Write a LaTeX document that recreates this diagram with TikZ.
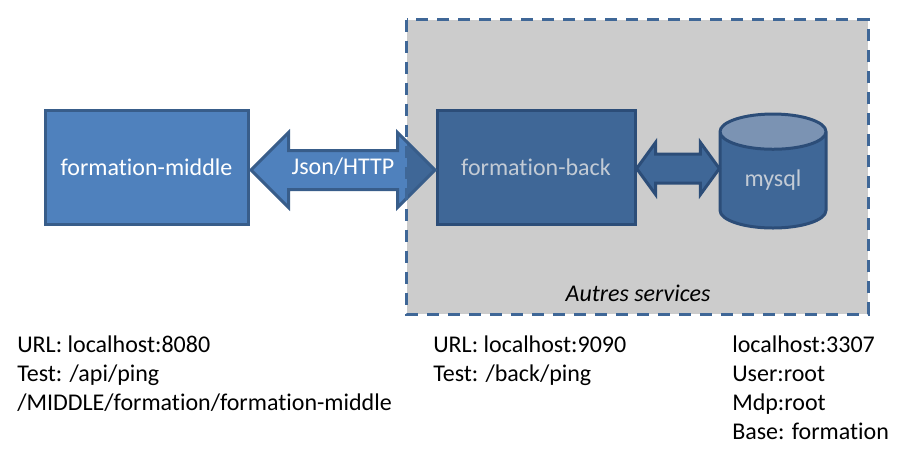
\documentclass[tikz,border=0pt]{standalone}
\usepackage{fontspec}
\setmainfont[Ligatures=NoCommon]{Carlito}
\usetikzlibrary{shapes.arrows,shapes.geometric}
\definecolor{midfill}{HTML}{4F81BD}
\definecolor{midline}{HTML}{385D8A}
\definecolor{backfill}{HTML}{3F6797}
\definecolor{backline}{HTML}{2C4D78}
\definecolor{backtext}{HTML}{C3CBD5}
\definecolor{cyltop}{HTML}{7B93B3}
\definecolor{zonegrey}{HTML}{CCCCCC}
\tikzset{
  x=0.75pt,y=-0.75pt,
  every node/.style={font=\fontsize{18}{21.75}\selectfont},
  midbox/.style={draw=midline,fill=midfill,line width=2.25pt,text=white,minimum width=152.25pt,minimum height=85.5pt,inner sep=0pt},
  backbox/.style={draw=backline,fill=backfill,line width=2.25pt,text=backtext,minimum width=148.5pt,minimum height=85.5pt,inner sep=0pt},
  dblarrow/.style={shape=double arrow,line width=2.25pt,inner xsep=0pt},
  note/.style={anchor=north west,align=left,inner sep=0pt,text=black},
}
\begin{document}
\begin{tikzpicture}
\useasboundingbox (0,0) rectangle (909,455);
\node[fill=zonegrey,minimum width=345.75pt,minimum height=220.5pt,inner sep=0pt] (zone) at (637.5,167) {};
\node[midbox] (middle) at (146.5,167) {formation-middle};
\node[backbox] (back) at (536,167) {formation-back};
\node[dblarrow,draw=midline,fill=midfill,text=white,
  double arrow tip angle=90,double arrow head extend=13.5pt,
  minimum height=138pt,minimum width=54pt,
  text height=9pt,text depth=3pt,inner ysep=7.5pt,
  path picture={\fill[backfill] ([xshift=-21pt,yshift=-60pt]path picture bounding box.east) rectangle ([xshift=10pt,yshift=60pt]path picture bounding box.east);}] (json) at (343,170) {Json/HTTP};
\node[cylinder,shape border rotate=90,draw=backline,line width=2.25pt,
  cylinder uses custom fill,cylinder body fill=backfill,cylinder end fill=cyltop,
  minimum width=79.5pt,minimum height=85.5pt,aspect=0.62,inner sep=0pt,text=backtext,anchor=shape center] (mysql) at (773,171) {mysql};
\node[dblarrow,draw=backline,fill=backfill,
  double arrow tip angle=108,double arrow head extend=8.6pt,
  minimum height=62pt,minimum width=36.75pt,
  text height=0pt,text depth=0pt,inner ysep=9.75pt] (link) at (678,168.5) {};
\draw[draw=backfill,line width=2.25pt,dash pattern=on 9pt off 6.75pt] (zone.north west) rectangle (zone.south east);
\node[anchor=base,font=\fontsize{18}{21.75}\selectfont\itshape] (zonelabel) at (638,301) {Autres services};
\node[note] (n1) at (17,336) {URL: localhost:8080\\Test: /api/ping\\/MIDDLE/formation/formation-middle};
\node[note] (n2) at (433,336) {URL: localhost:9090\\Test: /back/ping};
\node[note] (n3) at (732,336) {localhost:3307\\User:root\\Mdp:root\\Base: formation};
\end{tikzpicture}
\end{document}
